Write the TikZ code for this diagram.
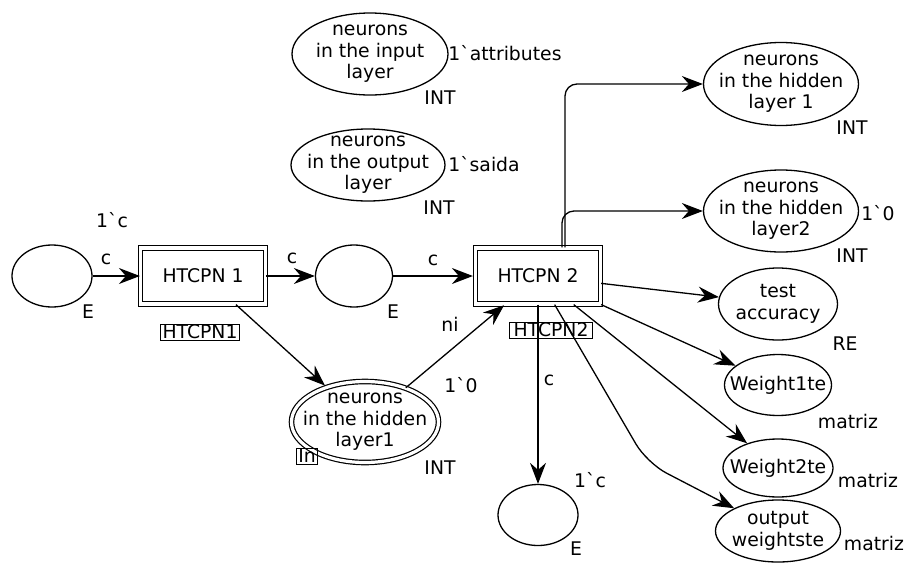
\documentclass[tikz,border=0pt]{standalone}
\usepackage{fontspec}
\setmainfont{DejaVu Sans}[Ligatures=TeXOff]
\usetikzlibrary{shapes.geometric,arrows.meta,calc}
\begin{document}
\begin{tikzpicture}[x=1pt,y=-1pt,
  every node/.style={font=\fontsize{18.8}{21.5}\selectfont},
  place/.style={draw, ellipse, line width=1.3pt, inner sep=0pt},
  dplace/.style={draw, ellipse, double, double distance=3.2pt, line width=1.2pt, inner sep=0pt},
  trans/.style={draw, rectangle, double, double distance=3.5pt, line width=1.2pt, minimum width=125pt, minimum height=56pt},
  txt/.style={align=center, inner sep=0pt},
  lbl/.style={inner sep=0pt},
  tag/.style={draw, line width=1pt, inner xsep=2pt, inner ysep=1pt, text height=13pt, text depth=1pt},
  arc/.style={line width=1.3pt, -{Stealth[length=21pt,width=16pt,inset=7pt]}}
]
\useasboundingbox (0,0) rectangle (906,563);

% places
\node[place, minimum width=80pt, minimum height=62pt] (e1) at (52,276) {};
\node[place, minimum width=77pt, minimum height=62pt] (e2) at (354,276) {};
\node[place, minimum width=80pt, minimum height=61pt] (e3) at (538,515) {};
\node[dplace, minimum width=147pt, minimum height=81pt] (hl1) at (365,422) {};
\node[txt] (hl1t) at (hl1) {neurons\\in the hidden\\layer1};
\node[place, minimum width=156pt, minimum height=82pt] (ip) at (370,54) {};
\node[txt] (ipt) at (ip) {neurons\\in the input\\layer};
\node[place, minimum width=154pt, minimum height=72pt] (op) at (368,165) {};
\node[txt] (opt) at (op) {neurons\\in the output\\layer};
\node[place, minimum width=155pt, minimum height=83pt] (hn1) at (781,84) {};
\node[txt] (hn1t) at (hn1) {neurons\\in the hidden\\layer 1};
\node[place, minimum width=155pt, minimum height=82pt] (hn2) at (781,211) {};
\node[txt] (hn2t) at (hn2) {neurons\\in the hidden\\layer2};
\node[place, minimum width=119pt, minimum height=72pt] (ta) at (778,304) {};
\node[txt] (tat) at (ta) {test\\accuracy};
\node[place, minimum width=107pt, minimum height=61pt] (w1) at (778,385) {};
\node[txt] (w1t) at (w1) {Weight1te};
\node[place, minimum width=110pt, minimum height=58pt] (w2) at (778,468) {};
\node[txt] (w2t) at (w2) {Weight2te};
\node[place, minimum width=125pt, minimum height=62pt] (ow) at (778,531) {};
\node[txt] (owt) at (ow) {output\\weightste};

% transitions
\node[trans] (h1) at (203,276) {HTCPN 1};
\node[trans] (h2) at (538,276) {HTCPN 2};

% tags
\node[tag, anchor=west] (tg1) at (160,332) {HTCPN1};
\node[tag, anchor=west, inner xsep=4pt] (tg2) at (509,330) {HTCPN2};
\node[tag, inner xsep=1.5pt] (tg3) at (307,456) {In};

% arcs
\draw[arc] (e1) -- (h1);
\draw[arc] (h1) -- (e2);
\draw[arc, shorten >=2pt] (e2) -- (h2);
\draw[arc, shorten >=2pt] (h1.-41.5) -- (hl1);
\draw[arc, shorten >=1pt] (hl1) -- ($(h2.south west)+(30,0)$);
\draw[arc, rounded corners=12pt] ($(h2.north)+(27,0)$) |- (hn1.west);
\draw[arc, rounded corners=12pt] ($(h2.north)+(24,0)$) |- (hn2.west);
\draw[arc] (h2) -- (ta);
\draw[arc] (h2) -- (w1);
\draw[arc] (h2) -- (w2);
\coordinate (bend) at (647,463);
\draw[arc, rounded corners=22pt] (h2) -- (bend) -- (ow);
\draw[arc] (h2) -- (e3);

% inscriptions
\node[lbl] (l1) at (106,259) {c};
\node[lbl] (l2) at (112,220) {1`c};
\node[lbl] (l3) at (88,312) {E};
\node[lbl] (l4) at (292,258) {c};
\node[lbl] (l5) at (393,312) {E};
\node[lbl] (l6) at (433,260) {c};
\node[lbl] (l7) at (450,324) {ni};
\node[lbl] (l8) at (461,385) {1`0};
\node[lbl] (l9) at (440,468) {INT};
\node[lbl] (l10) at (549,380) {c};
\node[lbl] (l11) at (590,480) {1`c};
\node[lbl] (l12) at (576,549) {E};
\node[lbl] (l13) at (505,53) {1`attributes};
\node[lbl] (l14) at (440,98) {INT};
\node[lbl] (l15) at (484,164) {1`saida};
\node[lbl] (l16) at (439,208) {INT};
\node[lbl] (l17) at (852,128) {INT};
\node[lbl] (l18) at (878,213) {1`0};
\node[lbl] (l19) at (852,256) {INT};
\node[lbl] (l20) at (845,344) {RE};
\node[lbl] (l21) at (848,421) {matriz};
\node[lbl] (l22) at (868,480) {matriz};
\node[lbl] (l23) at (874,543) {matriz};
\end{tikzpicture}
\end{document}
